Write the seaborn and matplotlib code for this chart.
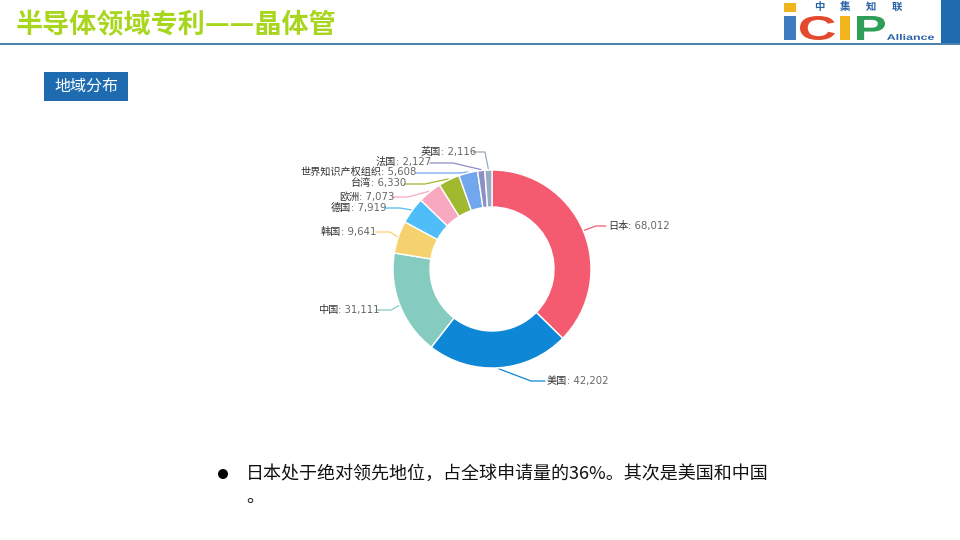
import numpy as np
import matplotlib
matplotlib.use('Agg')
import matplotlib.pyplot as plt
import seaborn as sns
from matplotlib.patches import PathPatch, Rectangle, Circle
from matplotlib.textpath import TextPath
from matplotlib.font_manager import FontProperties
from matplotlib.transforms import Affine2D

# data
regions = ['日本', '美国', '中国', '韩国', '德国', '欧洲', '台湾', '世界知识产权组织', '法国', '英国']
counts = [68012, 42202, 31111, 9641, 7919, 7073, 6330, 5608, 2127, 2116]
colors = ['#f45b70', '#0d87d6', '#86cbc0', '#f6d26e', '#4fbdf7',
          '#f8a8bf', '#a0b92e', '#72a7ee', '#8c8fc4', '#99aac4']

title = '半导体领域专利——晶体管'
tag = '地域分布'
note_lines = ['日本处于绝对领先地位，占全球申请量的36%。其次是美国和中国', '。']

# layout in reference pixels
label_pos = [(608, 226), (547, 381), (318, 310), (321, 232), (331, 208),
             (339, 197), (351, 183), (300, 172), (376, 162), (421, 152)]
# line start, elbow next to the label
line_pts = [[(606, 226), (596, 226)], [(545, 381), (531, 381)], [(376, 310), (391, 310)],
            [(376, 232), (390, 232)], [(385, 208), (400, 208)], [(392, 197), (408, 197)],
            [(405, 184), (425, 184)], [(416, 173), (460, 173)], [(430, 163), (453, 163)],
            [(473, 152), (485, 152)]]
cx, cy, r_out, r_in = 492, 269, 99, 62

sns.set_theme(style='white')
plt.rcParams['font.family'] = ['Noto Sans CJK SC', 'DejaVu Sans']

W, H = 960, 540
fig = plt.figure(figsize=(9.6, 5.4), dpi=100, facecolor='white')

# overlay in pixel coordinates, for the slide furniture
ax = fig.add_axes([0, 0, 1, 1])
ax.set_xlim(0, W)
ax.set_ylim(H, 0)
ax.axis('off')

# donut
pie_ax = fig.add_axes([(cx - r_out) / W, 1 - (cy + r_out) / H, 2 * r_out / W, 2 * r_out / H])
pie_ax.pie(counts, colors=colors, startangle=90, counterclock=False, radius=1,
           wedgeprops=dict(width=1 - r_in / r_out, edgecolor='white', linewidth=1, clip_on=False))
pie_ax.set_xlim(-1, 1)
pie_ax.set_ylim(-1, 1)

# header
ax.text(16, 25, title, fontsize=19.5, fontweight='bold', color='#a8d61e', va='center', ha='left')
ax.plot([0, 960], [43.5, 43.5], color='#2a6a9e', lw=1.2)
ax.add_patch(Rectangle((941, 0), 19, 43, color='#1e6bb0', lw=0))
ax.add_patch(Rectangle((44, 72), 84, 29, color='#1e6bb0', lw=0))
ax.text(86, 86.5, tag, fontsize=11.5, color='white', ha='center', va='center')


def fit_text(s, x0, x1, y0, y1, color, weight='bold'):
    # stretch a glyph to fill a pixel box, the logo letters are wider than any font here
    path = TextPath((0, 0), s, size=10, prop=FontProperties(family='Liberation Sans', weight=weight))
    box = path.get_extents()
    tr = (Affine2D().translate(-box.x0, -box.y0)
          .scale((x1 - x0) / box.width, -(y1 - y0) / box.height)
          .translate(x0, y1))
    ax.add_patch(PathPatch(path, transform=tr + ax.transData, color=color, lw=0))


# logo
ax.add_patch(Rectangle((784, 3), 12, 9, color='#f2b41c', lw=0))
for ch, x in zip('中集知联', [811, 837, 863, 889]):
    ax.text(x + 8, 7, ch, fontsize=7.5, fontweight='bold', color='#2a62a8', ha='center', va='center')
fit_text('I', 784, 796, 16, 40, '#3d7cc0')
fit_text('C', 800, 835, 16, 40, '#e2492f')
fit_text('I', 840, 850, 16, 40, '#f2b41c')
fit_text('P', 857, 885, 16, 40, '#2f9e57')
fit_text('Alliance', 887, 934, 34, 40, '#2a62a8')

# leader lines and labels
total = sum(counts)
cum = np.cumsum([0] + counts[:-1])
for i, (name, val) in enumerate(zip(regions, counts)):
    mid = (cum[i] + val / 2) / total * 2 * np.pi
    sx = cx + (r_out + 1) * np.sin(mid)
    sy = cy - (r_out + 1) * np.cos(mid)
    (x0, y0), (x1, y1) = line_pts[i]
    ax.plot([x0, x1, sx], [y0, y1, sy], color=colors[i], lw=0.9, solid_joinstyle='round')
    lx, ly = label_pos[i]
    t = ax.text(lx, ly, name, fontsize=7.3, color='#333333', ha='left', va='center')
    ax.annotate(f': {val:,}', xy=(1, 0.5), xycoords=t, fontsize=7.3, color='#666666',
                ha='left', va='center', family=['DejaVu Sans'], annotation_clip=False)

# bullet note
ax.add_patch(Circle((223, 474), 5, color='black', lw=0))
ax.text(246, 474, note_lines[0], fontsize=13, color='#111111', ha='left', va='center')
ax.text(246, 497, note_lines[1], fontsize=13, color='#111111', ha='left', va='center')

fig.savefig('out.png', dpi=100, facecolor='white')
